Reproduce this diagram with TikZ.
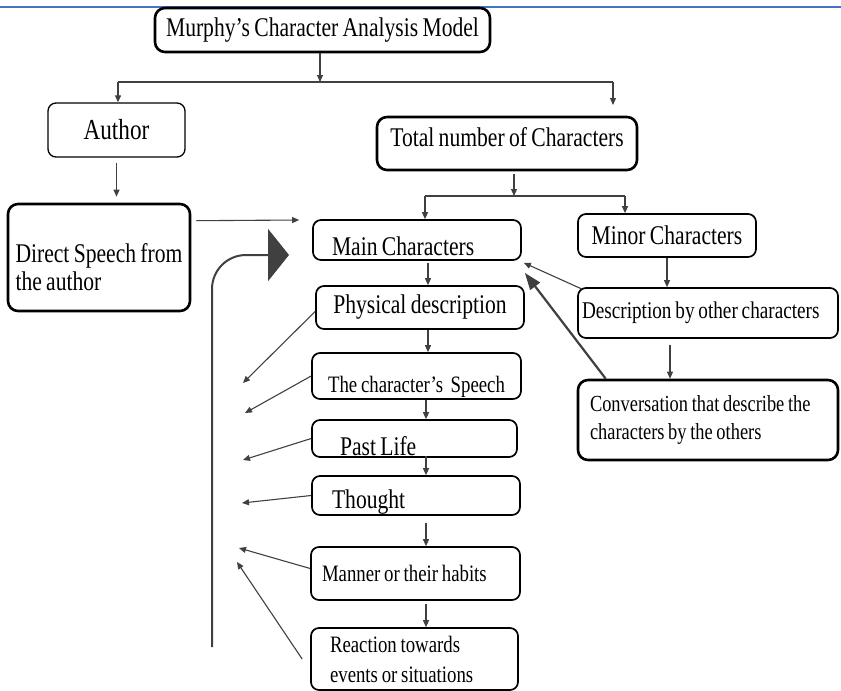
\documentclass[tikz,border=0pt]{standalone}
\usepackage{fontspec}
\setmainfont{Liberation Serif}[FakeStretch=0.8, WordSpace=0.8]
\usepackage{xcolor}
\usetikzlibrary{arrows.meta,positioning,calc}

\definecolor{topline}{RGB}{68,114,196}
\definecolor{arrowgray}{RGB}{64,64,64}

\tikzset{
  box/.style={draw, rounded corners=8pt, line width=1.7pt, inner sep=2pt},
  thickbox/.style={box, line width=2.6pt, rounded corners=10pt},
  arr/.style={draw=arrowgray, line width=1.1pt, -{Triangle[length=7pt,width=6pt]}},
  barline/.style={draw=arrowgray, line width=2pt},
  bigtxt/.style={font=\fontsize{27}{28}\selectfont},
  smalltxt/.style={font=\fontsize{23.5}{30}\selectfont}
}

\begin{document}
\begin{tikzpicture}[x=1pt,y=-1pt]
\useasboundingbox (0,0) rectangle (841,691);
\draw[topline, line width=2.5pt] (0,7) -- (841,7);

% top level
\node[thickbox, bigtxt, minimum width=335pt, minimum height=44pt] (title) at (322.5,30) {Murphy’s Character Analysis Model};
\node[box, line width=1.3pt, font=\fontsize{29}{30}\selectfont, minimum width=137pt, minimum height=54pt] (author) at (116.5,130) {Author};
\node[thickbox, bigtxt, minimum width=260pt, minimum height=53pt, text height=18pt, text depth=13pt] (total) at (507,143.5) {Total number of Characters};
\node[thickbox, bigtxt, minimum width=182pt, minimum height=107pt, align=flush left, text height=66pt, text depth=1pt] (direct) at (99,257.5) {Direct Speech from\\the author};

% main characters column
\node[box, bigtxt, minimum width=208pt, minimum height=40pt, text width=170pt, inner xsep=19pt, inner ysep=2pt, align=flush left, text height=32pt, text depth=2pt] (main) at (417,240) {Main Characters};
\node[box, bigtxt, minimum width=208pt, minimum height=43pt] (physical) at (420,307.5) {Physical description};
\node[box, smalltxt, minimum width=209pt, minimum height=46pt, text height=36pt, text depth=4pt] (speech) at (416.5,376) {The character’s\ \ Speech};
\node[box, bigtxt, minimum width=205pt, minimum height=37pt, text width=149pt, inner xsep=28pt, inner ysep=1pt, align=flush left, text height=34pt, text depth=1pt] (past) at (414.5,438.5) {Past Life};
\node[box, bigtxt, minimum width=208pt, minimum height=39pt, text width=168pt, inner xsep=20pt, inner ysep=1pt, align=flush left, text height=28pt, text depth=3pt] (thought) at (416,495.5) {Thought};
\node[box, smalltxt, minimum width=209pt, minimum height=53pt, text width=187pt, inner xsep=11pt, align=flush left] (manner) at (415.5,573.5) {Manner or their habits};
\node[box, smalltxt, minimum width=207pt, minimum height=62pt, text width=169pt, inner xsep=19pt, align=flush left] (reaction) at (414.5,659) {Reaction towards\\events or situations};

% minor characters column
\node[box, bigtxt, minimum width=178pt, minimum height=43pt] (minor) at (667,235.5) {Minor Characters};
\node[box, font=\fontsize{24}{29}\selectfont, minimum width=260pt, minimum height=50pt, text width=252pt, inner xsep=4pt, align=flush left] (descr) at (708,313) {Description by other characters};
\node[thickbox, font=\fontsize{23}{28}\selectfont, minimum width=260pt, minimum height=80pt, text width=236pt, inner xsep=12pt, align=flush left] (conv) at (708,420) {Conversation that describe the\\characters by the others};

% split points
\coordinate (split1) at (320,82);
\coordinate (barleft) at (118,82);
\coordinate (barright) at (613,82);
\coordinate (totaltip) at (613,105);
\coordinate (split2) at (514,196);
\coordinate (bar2left) at (425,196);
\coordinate (bar2right) at (625,196);

\draw[arr] ([xshift=-2.5pt]title.south) -- (split1);
\draw[barline] (barleft) -- (barright);
\draw[arr] (barleft) -- (barleft |- author.north);
\draw[arr] (barright) -- (totaltip);
\draw[arr, shorten <=5pt, shorten >=6pt] (author.south) -- (author.south |- direct.north);
\draw[arr] ($(direct.north east)+(5,18)$) -- ($(main.west)+(-13,-20)$);

\draw[arr, shorten <=3pt] (total.south -| split2) -- (split2);
\draw[draw=arrowgray, line width=1.3pt] (bar2left) -- (bar2right);
\draw[arr] (bar2left) -- (bar2left |- main.north);
\draw[arr] (bar2right) -- (bar2right |- minor.north);

% chain of main characters
\draw[arr, shorten <=2pt] ([xshift=11pt]main.south) -- ([xshift=8pt]physical.north);
\draw[arr] ([xshift=8pt]physical.south) -- ([xshift=11.5pt]speech.north);
\draw[arr] ([xshift=9.5pt]speech.south) -- ([xshift=11.5pt]past.north);
\draw[arr, shorten <=-2pt] ([xshift=11.5pt]past.south) -- ([xshift=10pt]thought.north);
\draw[arr, shorten <=7pt] ([xshift=10pt]thought.south) -- ([xshift=10.5pt]manner.north);
\draw[arr, shorten <=3pt] ([xshift=10.5pt]manner.south) -- ([xshift=11.5pt]reaction.north);

% chain of minor characters
\draw[arr] (minor.south) -- (minor.south |- descr.north);
\draw[arr, shorten <=6pt] ([xshift=-38pt]descr.south) -- ([xshift=-38pt]conv.north);
\draw[arr] ([xshift=5pt,yshift=-2pt]descr.north west) -- ([xshift=2pt,yshift=-2pt]main.south east);
\draw[draw=arrowgray, line width=2.2pt, -{Triangle[length=17pt,width=12pt]}] ([xshift=29pt]conv.north west) -- ([xshift=3pt,yshift=-12pt]main.south east);

% arrows to the left
\coordinate (physend) at (243,383);
\coordinate (speechend) at (245,413);
\coordinate (pastend) at (243,460);
\coordinate (thoughtend) at (242,503);
\coordinate (mannerend) at (239,548);
\coordinate (reactend) at (237,562);
\draw[arr] ([yshift=-4pt]physical.west) -- (physend);
\draw[arr] (speech.west) -- (speechend);
\draw[arr] (past.west) -- (pastend);
\draw[arr] (thought.west) -- (thoughtend);
\draw[arr] ([yshift=5pt]manner.west) -- (mannerend);
\draw[arr] ([xshift=-8pt]reaction.west) -- (reactend);

% big loop back to main characters
\coordinate (loopfoot) at (212,647);
\coordinate (looptip) at (289,255);
\draw[draw=arrowgray, line width=2pt, rounded corners=34pt, -{Triangle[length=21pt,width=52pt]}] (loopfoot) |- (looptip);
\end{tikzpicture}
\end{document}
